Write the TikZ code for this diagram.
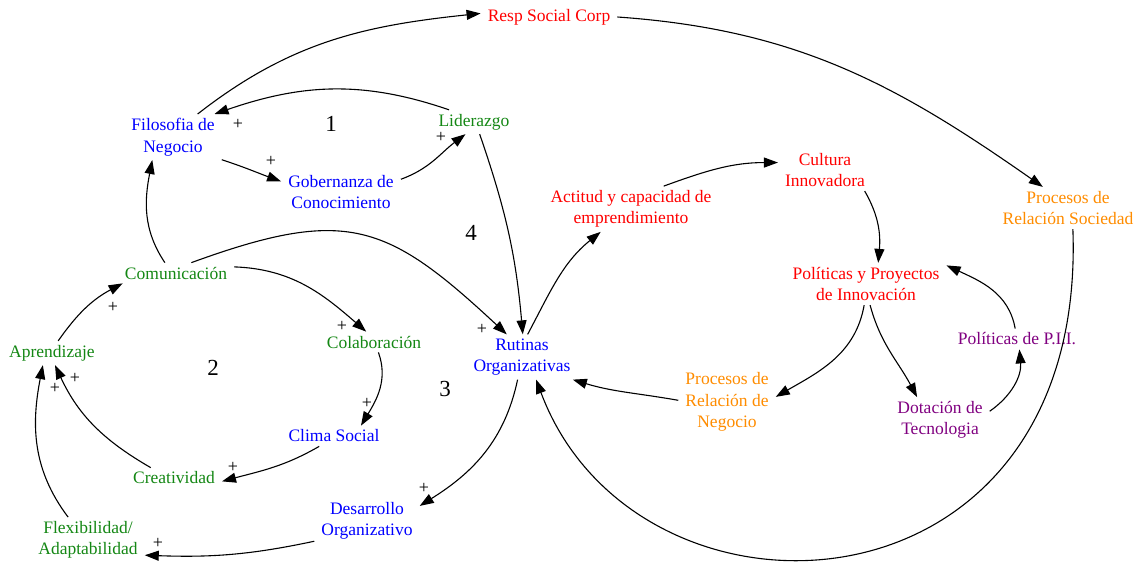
\documentclass[tikz,border=0pt]{standalone}
\usepackage{fontspec}
\setmainfont{Liberation Serif}
\usetikzlibrary{arrows.meta}
\definecolor{cblue}{RGB}{0,0,255}
\definecolor{cgreen}{RGB}{20,135,20}
\definecolor{cred}{RGB}{255,0,0}
\definecolor{corange}{RGB}{255,140,0}
\definecolor{cpurple}{RGB}{128,0,128}
\begin{document}
\begin{tikzpicture}[x=1pt,y=1pt,
  lbl/.style={font=\fontsize{17.5}{21.5}\selectfont, align=center, inner xsep=7pt, inner ysep=4pt},
  lk/.style={-{Triangle[length=14pt,width=10pt]}, line width=1.1pt},
  plus/.style={font=\fontsize{18}{18}\selectfont, inner sep=0pt},
  num/.style={font=\fontsize{23}{23}\selectfont, inner sep=0pt}]
\useasboundingbox (0,0) rectangle (1136,-562);

% nodes
\node[lbl,text=cred]    (resp) at (549,-17)  {Resp Social Corp};
\node[lbl,text=cblue]   (fil)  at (173,-137) {Filosofia de\\Negocio};
\node[lbl,text=cgreen]  (lid)  at (474,-122) {Liderazgo};
\node[lbl,text=cblue]   (gob)  at (341,-192) {Gobernanza de\\Conocimiento};
\node[lbl,text=cred]    (act)  at (631,-209) {Actitud y capacidad de\\emprendimiento};
\node[lbl,text=cred]    (cult) at (825,-170) {Cultura\\Innovadora};
\node[lbl,text=corange] (prs)  at (1068,-208) {Procesos de\\Relación Sociedad};
\node[lbl,text=cgreen]  (com)  at (176,-273) {Comunicación};
\node[lbl,text=cred]    (pyp)  at (866,-284) {Políticas y Proyectos\\de Innovación};
\node[lbl,text=cgreen]  (col)  at (374,-342) {Colaboración};
\node[lbl,text=cblue]   (rut)  at (522,-357) {Rutinas\\Organizativas};
\node[lbl,text=cgreen]  (apr)  at (52,-353)  {Aprendizaje};
\node[lbl,text=cpurple] (pii)  at (1017,-339) {Políticas de P.I.I.};
\node[lbl,text=corange] (prn)  at (727,-402) {Procesos de\\Relación de\\Negocio};
\node[lbl,text=cpurple] (dot)  at (940,-420) {Dotación de\\Tecnologia};
\node[lbl,text=cblue]   (clim) at (334,-436) {Clima Social};
\node[lbl,text=cgreen]  (crea) at (174,-478) {Creatividad};
\node[lbl,text=cblue]   (des)  at (367,-521) {Desarrollo\\Organizativo};
\node[lbl,text=cgreen]  (flex) at (88,-540)  {Flexibilidad/\\Adaptabilidad};

% loop numbers
\node[num] (n1) at (331,-124) {1};
\node[num] (n2) at (213,-368) {2};
\node[num] (n3) at (445,-389) {3};
\node[num] (n4) at (471,-233) {4};

% connectors
\draw[lk] (fil.43)   to[out=38,in=186] (resp.177);
\draw[lk] (resp.0)   to[out=-4,in=145] (prs.140);
\draw[lk] (lid.154)  to[out=161,in=19] (fil.29);
\draw[lk] (fil.-25)  to[out=-18,in=160] (gob.170);
\draw[lk] (gob.12)   to[out=20,in=217] (lid.235);
\draw[lk] (lid.-65)  to[out=-71,in=95] (rut.88);
\draw[lk] (com.137)  to[out=124,in=259] (fil.228);
\draw[lk] (com.34)   to[out=20,in=137,looseness=1.3] (rut.124);
\draw[lk] (com.6)    to[out=-2,in=139] (col.127);
\draw[lk] (col.-67)  to[out=-70,in=59] (clim.21);
\draw[lk] (clim.215) to[out=210,in=15] (crea.-4);
\draw[lk] (crea.156) to[out=150,in=-65] (apr.-76);
\draw[lk] (apr.63)   to[out=55,in=208] (com.191);
\draw[lk] (flex.131) to[out=127,in=-101] (apr.233);
\draw[lk] (des.201)  to[out=192,in=-2] (flex.-15);
\draw[lk] (rut.259)  to[out=258,in=32] (des.16);
\draw[lk] (rut.76)   to[out=62,in=219] (act.217);
\draw[lk] (act.35)   to[out=20,in=180] (cult.171);
\draw[lk] (cult.-28) to[out=-60,in=85] (pyp.60);
\draw[lk] (pyp.265)  to[out=-100,in=30] (prn.6);
\draw[lk] (pyp.-79)  to[out=-75,in=118] (dot.135);
\draw[lk] (dot.10)   to[out=35,in=-85] (pii.-77);
\draw[lk] (pii.100)  to[out=100,in=-25] (pyp.13);
\draw[lk] (prn.178)  to[out=170,in=-17] (rut.-24);
\draw[lk] (prs.-77) .. controls +(-87.9:400) and +(-69.5:285) .. (rut.-58);

% polarity signs
\node[plus] (p1)  at (238,-124) {+};
\node[plus] (p2)  at (271,-161) {+};
\node[plus] (p3)  at (441,-137) {+};
\node[plus] (p4)  at (113,-307) {+};
\node[plus] (p5)  at (342,-326) {+};
\node[plus] (p6)  at (482,-329) {+};
\node[plus] (p7)  at (367,-403) {+};
\node[plus] (p8)  at (233,-467) {+};
\node[plus] (p9)  at (75,-378)  {+};
\node[plus] (p10) at (55,-388)  {+};
\node[plus] (p11) at (158,-543) {+};
\node[plus] (p12) at (424,-488) {+};
\end{tikzpicture}
\end{document}
